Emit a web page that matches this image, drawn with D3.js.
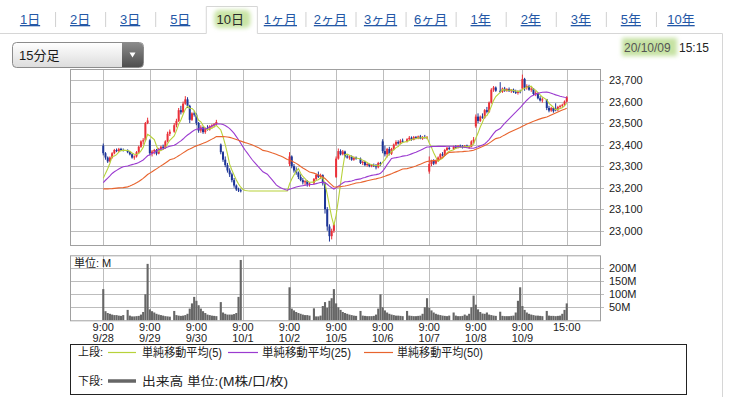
<!DOCTYPE html>
<html><head><meta charset="utf-8">
<script src="https://cdn.jsdelivr.net/npm/d3@7"></script>
<style>
body{margin:0;background:#fff;}
svg{display:block;font-family:"Liberation Sans",Arial,"Noto Sans CJK JP",sans-serif;}
</style></head><body>
<svg id="c" width="734" height="397"></svg>
<script>
// ---------------- DATA ----------------
const periodTabs = ["1日","2日","3日","5日","10日","1ヶ月","2ヶ月","3ヶ月","6ヶ月","1年","2年","3年","5年","10年"];
const selectedTab = "10日";
const intervalLabel = "15分足";
const stampDate = "20/10/09", stampTime = "15:15";
const dayDates = ["9/28","9/29","9/30","10/1","10/2","10/5","10/6","10/7","10/8","10/9"];
const dayStartLabel = "9:00", endLabel = "15:00";
const priceTicks = [23000,23100,23200,23300,23400,23500,23600,23700];
const volumeTicks = [50,100,150,200];
const maPeriods = [5,25,50];
const maNames = ["単純移動平均(5)","単純移動平均(25)","単純移動平均(50)"];
const volumeLegend = "出来高 単位:(M株/口/枚)";
const volumeUnit = "単位: M";

// closes of the 49 bars before 9/28 (feed the moving averages)
const priorCloses = [
 23330,23325,23320,23318,23315,23320,23330,23340,23346,
 23180,23150,23120,23100,23090,23080,23070,23060,23055,23050,23045,23040,23035,23030,23040,23050,23060,23070,23080,23087,
 23180,23200,23220,23240,23255,23265,23270,23275,23280,23285,23280,23275,23270,23265,23260,23250,23225,23215,23212,23205];

// 15-minute bars, 20 per day (10 morning + 10 afternoon); 10/1 had no trading
const N = null;
const open = [
 23395,23360,23340,23322,23340,23360,23375,23370,23380,23375, 23372,23365,23355,23340,23345,23365,23390,23415,23420,23500,
 23420,23360,23368,23375,23358,23380,23390,23385,23415,23450, 23460,23490,23510,23560,23550,23590,23610,23580,23515,23545,
 23539,23500,23465,23480,23458,23475,23470,23485,23490,23495, 23400,23365,23330,23305,23280,23262,23235,23210,23192,23188,
 N,N,N,N,N,N,N,N,N,N, N,N,N,N,N,N,N,N,N,N,
 23310,23345,23300,23280,23270,23250,23235,23225,23230,23215, 23220,23240,23260,23250,23258,23220,23100,23020,22975,23000,
 23250,23335,23370,23355,23368,23345,23340,23345,23330,23340, 23335,23315,23320,23305,23310,23300,23305,23300,23295,23315,
 23415,23370,23355,23380,23358,23380,23400,23412,23405,23418, 23415,23425,23432,23422,23435,23430,23438,23428,23435,23432,
 23275,23310,23325,23312,23325,23340,23355,23350,23375,23385, 23380,23390,23385,23395,23390,23388,23395,23388,23390,23415,
 23485,23530,23510,23530,23525,23560,23552,23595,23655,23665, 23650,23645,23660,23650,23658,23648,23655,23645,23640,23648,
 23660,23705,23665,23672,23655,23660,23635,23640,23615,23605, 23610,23570,23558,23570,23568,23560,23575,23580,23585,23600];
const high = [
 23405,23365,23345,23345,23365,23380,23382,23385,23385,23382, 23378,23370,23360,23350,23370,23395,23420,23430,23505,23525,
 23425,23375,23380,23380,23385,23395,23400,23420,23460,23470, 23500,23520,23570,23580,23600,23625,23620,23585,23550,23555,
 23545,23505,23490,23485,23480,23490,23490,23495,23500,23515, 23405,23370,23345,23315,23290,23270,23245,23215,23200,23195,
 N,N,N,N,N,N,N,N,N,N, N,N,N,N,N,N,N,N,N,N,
 23365,23350,23310,23295,23275,23262,23245,23235,23235,23225, 23245,23265,23275,23265,23262,23225,23110,23030,23010,23035,
 23345,23382,23378,23375,23372,23355,23350,23350,23345,23345, 23340,23325,23325,23315,23312,23310,23312,23310,23320,23320,
 23425,23395,23385,23390,23385,23405,23420,23420,23425,23428, 23430,23440,23438,23440,23440,23442,23445,23440,23445,23440,
 23345,23330,23332,23330,23345,23360,23365,23380,23390,23392, 23395,23398,23398,23400,23398,23398,23400,23395,23420,23435,
 23540,23545,23535,23545,23565,23575,23600,23662,23672,23670, 23690,23665,23668,23662,23665,23658,23660,23655,23652,23655,
 23725,23710,23680,23678,23668,23662,23648,23642,23625,23620, 23612,23580,23575,23575,23592,23580,23585,23590,23605,23625];
const low = [
 23350,23330,23315,23318,23335,23355,23365,23365,23370,23368, 23360,23350,23335,23330,23340,23360,23385,23400,23415,23495,
 23350,23345,23355,23350,23355,23370,23375,23380,23410,23440, 23455,23480,23505,23540,23545,23585,23570,23500,23510,23530,
 23490,23455,23455,23450,23450,23465,23465,23475,23480,23490, 23355,23320,23295,23270,23250,23225,23200,23185,23180,23178,
 N,N,N,N,N,N,N,N,N,N, N,N,N,N,N,N,N,N,N,N,
 23300,23290,23270,23260,23240,23230,23215,23210,23205,23205, 23215,23235,23245,23240,23210,23080,23000,22950,22960,22990,
 23245,23330,23350,23350,23340,23335,23330,23325,23325,23330, 23310,23305,23300,23298,23295,23295,23296,23285,23290,23300,
 23360,23345,23340,23350,23352,23375,23395,23400,23402,23408, 23410,23420,23418,23420,23425,23425,23425,23422,23428,23425,
 23265,23300,23305,23308,23320,23335,23345,23348,23370,23375, 23375,23380,23382,23385,23382,23384,23385,23380,23388,23405,
 23478,23500,23505,23520,23520,23545,23548,23590,23645,23645, 23640,23640,23645,23645,23645,23640,23640,23635,23632,23638,
 23655,23650,23655,23650,23645,23630,23625,23610,23600,23595, 23560,23550,23552,23548,23555,23555,23565,23570,23580,23595];
const close = [
 23360,23340,23322,23340,23360,23375,23370,23380,23375,23372, 23365,23355,23340,23345,23365,23390,23415,23420,23500,23512,
 23360,23368,23375,23358,23380,23390,23385,23415,23450,23460, 23490,23510,23560,23550,23590,23610,23580,23515,23545,23539,
 23500,23465,23480,23458,23475,23470,23485,23490,23495,23505, 23365,23330,23305,23280,23262,23235,23210,23192,23188,23185,
 N,N,N,N,N,N,N,N,N,N, N,N,N,N,N,N,N,N,N,N,
 23345,23300,23280,23270,23250,23235,23225,23230,23215,23220, 23240,23260,23250,23258,23220,23100,23020,22975,23000,23030,
 23335,23370,23355,23368,23345,23340,23345,23330,23340,23335, 23315,23320,23305,23310,23300,23305,23300,23295,23315,23312,
 23370,23355,23380,23358,23380,23400,23412,23405,23418,23415, 23425,23432,23422,23435,23430,23438,23428,23435,23432,23434,
 23310,23325,23312,23325,23340,23355,23350,23375,23385,23380, 23390,23385,23395,23390,23388,23395,23388,23390,23415,23423,
 23530,23510,23530,23525,23560,23552,23595,23655,23665,23650, 23645,23660,23650,23658,23648,23655,23645,23640,23648,23647,
 23705,23665,23672,23655,23660,23635,23640,23615,23605,23610, 23570,23558,23570,23555,23560,23575,23580,23585,23600,23620];
// volume, millions
const volume = [
 120,35,28,25,22,20,20,18,17,20, 40,18,15,15,16,17,22,32,100,217,
 42,35,30,25,22,20,18,16,15,14, 36,20,18,17,18,20,25,45,65,90,
 75,58,45,35,28,22,20,18,17,16, 70,30,25,22,22,22,24,28,90,232,
 N,N,N,N,N,N,N,N,N,N, N,N,N,N,N,N,N,N,N,N,
 127,45,38,32,28,25,22,20,20,18, 46,15,15,18,55,70,48,75,85,120,
 65,50,40,32,28,25,22,20,18,17, 36,18,17,16,16,16,17,22,45,100,
 50,38,30,25,22,20,18,18,17,16, 36,18,17,16,16,17,18,25,50,85,
 48,38,30,25,22,20,18,17,16,18, 30,18,16,16,17,22,18,25,50,95,
 60,42,32,26,25,30,22,20,18,17, 33,17,16,16,16,17,18,30,75,127,
 55,40,30,25,22,20,18,18,17,16, 36,18,17,17,16,17,18,25,40,65];

// ---------------- LAYOUT ----------------
const C = {red:"#ea3038", blue:"#1d3597", grid:"#bdbdbd", frame:"#a0a0a0", text:"#222",
  ma:["#b7d23a","#9b3bd0","#e8642e"], vol:"#666"};
const BARS_PER_DAY = 20, SLOTS_PER_DAY = 21;
const P = {l:70, r:600, t:69, b:245};
const V = {t:255.3, b:320.3};
const svg = d3.select("#c");

const slotOf = k => { const d = Math.floor(k/BARS_PER_DAY), i = k%BARS_PER_DAY; return d*SLOTS_PER_DAY + (i<10?i:i+1); };
const x = d3.scaleLinear().domain([-15, 224]).range([P.l, P.r]);
const y = d3.scaleLinear().domain([22934, 23751]).range([P.b, P.t]);
const yv = d3.scaleLinear().domain([0, 250]).range([V.b, V.t]);

const daySlots = dayDates.map((d,i)=>i*SLOTS_PER_DAY);
const endSlot = (dayDates.length-1)*SLOTS_PER_DAY + BARS_PER_DAY;

// ---- header / tabs ----
const defs = svg.append("defs");
defs.append("filter").attr("id","glow").attr("x","-30%").attr("y","-30%").attr("width","160%").attr("height","160%")
  .append("feGaussianBlur").attr("stdDeviation",2.2);
const g1 = defs.append("linearGradient").attr("id","dd").attr("x1",0).attr("x2",0).attr("y1",0).attr("y2",1);
g1.append("stop").attr("offset","0").attr("stop-color","#ffffff");
g1.append("stop").attr("offset","1").attr("stop-color","#dcdcdc");
const g2 = defs.append("linearGradient").attr("id","ddb").attr("x1",0).attr("x2",0).attr("y1",0).attr("y2",1);
g2.append("stop").attr("offset","0").attr("stop-color","#8a8a8a");
g2.append("stop").attr("offset","1").attr("stop-color","#4e4e4e");

const tabX = d3.scaleBand().domain(periodTabs).range([5, 706]);
const selX0 = tabX(selectedTab)+1, selX1 = tabX(selectedTab)+tabX.bandwidth()+2;
svg.append("path").attr("d",`M0,33.5H${selX0}V6.5H${selX1}V33.5H722.5V397`)
  .attr("fill","none").attr("stroke","#d6d6d6");
svg.append("rect").attr("x",tabX(selectedTab)+9).attr("y",10).attr("width",tabX.bandwidth()-14).attr("height",18)
  .attr("rx",5).attr("fill","#c9e4a6").attr("filter","url(#glow)");
periodTabs.forEach((t,i)=>{
  const cx = tabX(t)+tabX.bandwidth()/2;
  const sel = t===selectedTab;
  svg.append("text").attr("x",cx).attr("y",24).attr("text-anchor","middle")
    .attr("font-size",13).attr("fill", sel?"#2a2a2a":"#2457a6")
    .attr("text-decoration", sel?null:"underline").text(t);
  if(i>0 && t!==selectedTab && periodTabs[i-1]!==selectedTab)
    svg.append("line").attr("x1",tabX(t)+0.5).attr("x2",tabX(t)+0.5).attr("y1",12).attr("y2",27).attr("stroke","#d0d0d0");
});

// dropdown
svg.append("rect").attr("x",12.5).attr("y",42.5).attr("width",131).attr("height",25).attr("rx",4)
  .attr("fill","url(#dd)").attr("stroke","#8c8c8c");
svg.append("path").attr("d","M122,43H139.5A3.5,3.5 0 0 1 143,46.5V63.5A3.5,3.5 0 0 1 139.5,67H122Z").attr("fill","url(#ddb)");
svg.append("path").attr("d","M129.5,52.5L135.5,52.5L132.5,57.5Z").attr("fill","#fff");
svg.append("text").attr("x",19).attr("y",60).attr("font-size",13).attr("fill","#1a1a1a").text(intervalLabel);

// time stamp
svg.append("rect").attr("x",622).attr("y",38).attr("width",55).attr("height",18).attr("fill","#c6e2a3").attr("filter","url(#glow)");
svg.append("text").attr("x",624).attr("y",52).attr("font-size",12).attr("fill","#555").text(stampDate);
svg.append("text").attr("x",679).attr("y",52).attr("font-size",12).attr("fill","#222").text(stampTime);

// ---- price panel ----
const gp = svg.append("g");
gp.selectAll("line.h").data(priceTicks).join("line")
  .attr("x1",P.l).attr("x2",P.r+4).attr("y1",d=>Math.round(y(d))+0.5).attr("y2",d=>Math.round(y(d))+0.5)
  .attr("stroke",C.grid);
gp.selectAll("line.v").data(daySlots.concat([endSlot])).join("line")
  .attr("x1",d=>Math.round(x(d))+0.5).attr("x2",d=>Math.round(x(d))+0.5).attr("y1",P.t).attr("y2",P.b)
  .attr("stroke",C.grid);
gp.append("rect").attr("x",P.l+0.5).attr("y",P.t+0.5).attr("width",P.r-P.l).attr("height",P.b-P.t)
  .attr("fill","none").attr("stroke",C.frame);
gp.selectAll("text.py").data(priceTicks).join("text")
  .attr("x",609).attr("y",d=>y(d)+4).attr("font-size",11).attr("fill",C.text).text(d3.format(","));

defs.append("clipPath").attr("id","clipP").append("rect").attr("x",P.l).attr("y",P.t).attr("width",P.r-P.l).attr("height",P.b-P.t);
const plot = svg.append("g").attr("clip-path","url(#clipP)");

// moving averages (missing bars carry the last close)
let last = priorCloses[priorCloses.length-1];
const filled = close.map(c=>{ if(c!=null) last=c; return last; });
const series = priorCloses.concat(filled);
const base = priorCloses.length;
const idx = d3.range(close.length);

// candles
const bars = idx.filter(k=>close[k]!=null);
plot.selectAll("line.wick").data(bars).join("line")
  .attr("x1",k=>x(slotOf(k))).attr("x2",k=>x(slotOf(k)))
  .attr("y1",k=>y(high[k])).attr("y2",k=>y(low[k]))
  .attr("stroke",k=>close[k]>=open[k]?C.red:C.blue).attr("stroke-width",1);
plot.selectAll("rect.body").data(bars).join("rect")
  .attr("x",k=>x(slotOf(k))-1).attr("width",2)
  .attr("y",k=>y(Math.max(open[k],close[k])))
  .attr("height",k=>Math.max(1,Math.abs(y(open[k])-y(close[k]))))
  .attr("fill",k=>close[k]>=open[k]?C.red:C.blue);

maPeriods.forEach((n,j)=>{
  const vals = idx.map(k=>d3.mean(series.slice(base+k-n+1, base+k+1)));
  plot.append("path").attr("fill","none").attr("stroke",C.ma[j]).attr("stroke-width",1.1)
    .attr("d", d3.line().x((v,k)=>x(slotOf(k))).y(v=>y(v))(vals));
});

// ---- volume panel ----
const gv = svg.append("g");
gv.selectAll("line.h").data(volumeTicks).join("line")
  .attr("x1",P.l).attr("x2",P.r+4).attr("y1",d=>Math.round(yv(d))+0.5).attr("y2",d=>Math.round(yv(d))+0.5)
  .attr("stroke",C.grid);
gv.selectAll("line.v").data(daySlots.concat([endSlot])).join("line")
  .attr("x1",d=>Math.round(x(d))+0.5).attr("x2",d=>Math.round(x(d))+0.5).attr("y1",V.t).attr("y2",V.b)
  .attr("stroke",C.grid);
gv.selectAll("rect.vb").data(idx.filter(k=>volume[k]!=null)).join("rect")
  .attr("x",k=>x(slotOf(k))-1.05).attr("width",2.1)
  .attr("y",k=>yv(volume[k])).attr("height",k=>yv(0)-yv(volume[k])).attr("fill",C.vol);
gv.append("rect").attr("x",P.l+0.5).attr("y",V.t+0.5).attr("width",P.r-P.l).attr("height",V.b-V.t)
  .attr("fill","none").attr("stroke",C.frame);
gv.selectAll("text.vy").data(volumeTicks).join("text")
  .attr("x",609).attr("y",d=>yv(d)+4).attr("font-size",11).attr("fill",C.text).text(d=>d+"M");
gv.append("text").attr("x",74).attr("y",267).attr("font-size",11).attr("fill",C.text).text(volumeUnit);

// x labels
dayDates.forEach((d,i)=>{
  const cx = x(daySlots[i]);
  svg.append("text").attr("x",cx).attr("y",331).attr("text-anchor","middle").attr("font-size",11).attr("fill",C.text).text(dayStartLabel);
  svg.append("text").attr("x",cx).attr("y",342).attr("text-anchor","middle").attr("font-size",11).attr("fill",C.text).text(d);
});
svg.append("text").attr("x",x(endSlot)).attr("y",331).attr("text-anchor","middle").attr("font-size",11).attr("fill",C.text).text(endLabel);

// ---- legend ----
const lg = svg.append("g");
lg.append("rect").attr("x",70.5).attr("y",344.5).attr("width",616).attr("height",50).attr("fill","none").attr("stroke","#222");
lg.append("text").attr("x",78).attr("y",356).attr("font-size",11).attr("fill",C.text).text("上段:");
const legX = [[108,136,142,80],[228,258,262,89],[364,393,397,86]];
maNames.forEach((nm,j)=>{
  lg.append("line").attr("x1",legX[j][0]).attr("x2",legX[j][1]).attr("y1",352.5).attr("y2",352.5).attr("stroke",C.ma[j]).attr("stroke-width",1.2);
  lg.append("text").attr("x",legX[j][2]).attr("y",356.5).attr("font-size",12).attr("fill",C.text)
    .attr("textLength",legX[j][3]).attr("lengthAdjust","spacingAndGlyphs").text(nm);
});
lg.append("text").attr("x",78).attr("y",385).attr("font-size",11).attr("fill",C.text).text("下段:");
lg.append("line").attr("x1",108).attr("x2",136).attr("y1",381).attr("y2",381).attr("stroke",C.vol).attr("stroke-width",3.5);
lg.append("text").attr("x",142).attr("y",385.5).attr("font-size",12).attr("fill",C.text)
  .attr("textLength",146).attr("lengthAdjust","spacingAndGlyphs").text(volumeLegend);
</script></body></html>
